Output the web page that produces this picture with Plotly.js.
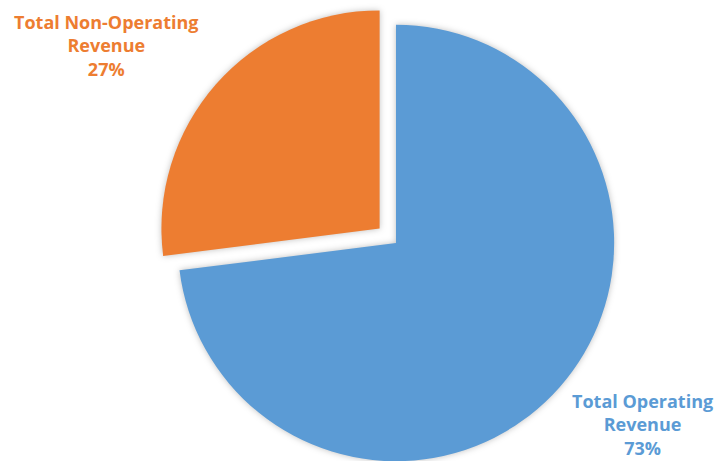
<!DOCTYPE html>
<html>
<head>
<meta charset="utf-8">
<script src="https://cdn.plot.ly/plotly-3.0.1.min.js"></script>
<style>
html, body { margin: 0; padding: 0; overflow: hidden; background: #fff; }
#chart { width: 718px; height: 483px; }
.slice path.surface { filter: drop-shadow(0px 0px 3px rgba(0,0,0,0.25)); }
</style>
</head>
<body>
<div id="chart"></div>
<script>
// Data
var categories = ['Total Operating Revenue', 'Total Non-Operating Revenue'];
var labelLines = [['Total Operating', 'Revenue'], ['Total Non-Operating', 'Revenue']];
var values = [73, 27];
var colors = ['#5B9BD5', '#ED7D31'];
var pulls = [0, 0.1];

var total = values.reduce(function (a, b) { return a + b; }, 0);
var labelPos = [{x: 0.8955, y: 0.122}, {x: 0.149, y: 0.9125}];

var annotations = categories.map(function (c, i) {
  var pct = Math.round(values[i] / total * 100) + '%';
  return {
    xref: 'paper', yref: 'paper',
    x: labelPos[i].x, y: labelPos[i].y,
    xanchor: 'center', yanchor: 'middle',
    text: '<b>' + labelLines[i].concat([pct]).join('<br>') + '</b>',
    showarrow: false,
    align: 'center',
    borderpad: 0,
    font: {family: 'Open Sans, sans-serif', size: 18, color: colors[i]}
  };
});

var trace = {
  type: 'pie',
  labels: categories,
  values: values,
  sort: false,
  direction: 'clockwise',
  rotation: 0,
  pull: pulls,
  marker: {colors: colors, line: {width: 0}},
  textinfo: 'none',
  hoverinfo: 'label+percent',
  showlegend: false,
  domain: {x: [0.2, 0.903], y: [0, 1]}
};

var layout = {
  width: 718,
  height: 483,
  margin: {l: 0, r: 0, t: 3, b: 0, pad: 0},
  paper_bgcolor: '#ffffff',
  plot_bgcolor: '#ffffff',
  showlegend: false,
  annotations: annotations
};

Plotly.newPlot('chart', [trace], layout, {displayModeBar: false, staticPlot: true});
</script>
</body>
</html>
